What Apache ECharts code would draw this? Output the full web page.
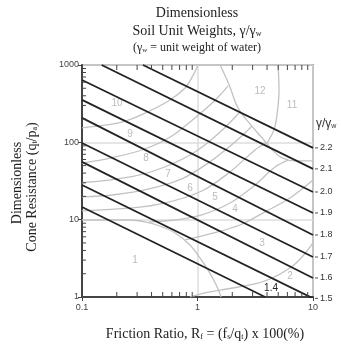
<!DOCTYPE html>
<html><head><meta charset="utf-8">
<script src="https://cdn.jsdelivr.net/npm/echarts@6.0.0/dist/echarts.min.js"></script>
<style>html,body{margin:0;padding:0;background:#fff}#c{width:341px;height:351px}</style>
</head><body><div id="c"></div>
<script>
// ---- axis ticks ----
const xMajor = [0.1, 1, 10];
const yMajor = [1, 10, 100, 1000];
const xMinor = [0.2,0.3,0.4,0.5,0.6,0.7,0.8,0.9,2,3,4,5,6,7,8,9];
const yMinor = [2,3,4,5,6,7,8,9,20,30,40,50,60,70,80,90,200,300,400,500,600,700,800,900];

// ---- gamma/gamma_w lines (start / end points) ----
const gammaValues = [2.2, 2.1, 2.0, 1.9, 1.8, 1.7, 1.6, 1.5, 1.4];
const gammaStart = [[0.337,1000],[0.148,1000],[0.1,641],[0.1,354],[0.1,207],[0.1,98],[0.1,55.8],[0.1,28.1],[0.1,14.6]];
const gammaEnd   = [[10,84.7],[10,45.3],[10,22.8],[10,12.2],[10,6.34],[10,3.29],[10,1.76],[10,0.96],[3.85,1]];

// ---- soil behaviour type zone boundaries (gray curves) ----
const b10_9  = [[0.1,154],[0.17,169],[0.23,185],[0.33,228],[0.56,343],[0.78,505],[0.91,722],[1.01,1000]];
const b9_8   = [[0.1,54],[0.18,63],[0.35,82],[0.58,117],[0.95,207],[1.34,323],[1.63,436],[1.84,537]];
const b8_7   = [[0.1,30],[0.27,36],[0.52,48],[0.95,75],[1.57,136],[2.33,247]];
const b7_6   = [[0.1,19.7],[0.19,21],[0.38,25],[0.74,34],[1.28,56],[2.11,101],[2.97,163]];
const b6_5   = [[0.1,13],[0.27,14.2],[0.52,16.4],[1.09,23.5],[1.91,41.4],[3.15,79.8],[3.92,98]];
const b5_4   = [[0.38,9.34],[0.64,9.9],[1.09,11.5],[1.91,16.4],[3.15,28.1],[4.69,48.1],[6.1,59]];
const b4_3   = [[0.78,5.46],[1.28,6.53],[2.33,8.53],[3.84,12.6],[6.32,19.1],[10,32.6]];
const b12L   = [[1.57,1000],[1.88,553],[2.24,279],[2.85,173],[3.62,114],[4.42,80],[5.4,63],[7.0,57.5],[10,57.5]];
const b12_11 = [[4.98,1000],[5.08,476],[4.88,226],[4.59,145],[3.95,95]];
const b1     = [[0.1,9.9],[0.26,9.9],[0.35,9.34],[0.47,8.28],[0.64,6.73],[0.86,4.71],[1.05,3.2],[1.28,2.04],[1.48,1.35],[1.6,1]];
const b2     = [[0.86,1],[1.16,1.13],[1.57,1.23],[2.85,1.43],[4.24,1.71],[6.32,2.37],[8.04,3.29],[10,5.0]];
const boundaries = [b10_9, b9_8, b8_7, b7_6, b6_5, b5_4, b4_3, b12L, b12_11, b1, b2];

// ---- zone numbers ----
const zoneNames = ['10','9','8','7','6','5','4','3','2','1','12','11'];
const zonePos = [[0.201,323],[0.261,128],[0.358,62.8],[0.556,39],[0.861,25.7],[1.42,19.7],[2.11,13.7],[3.62,5.0],[6.32,1.87],[0.288,3.01],[3.48,462],[6.58,305]];

const serif = '"Liberation Serif","Times New Roman",serif';
const sans = '"Liberation Sans",Arial,sans-serif';
const chart = echarts.init(document.getElementById('c'), null, {renderer:'canvas'});

const series = [];
boundaries.forEach(b => series.push({
  type:'line', data:b, smooth:0.35, showSymbol:false, silent:true, z:2,
  lineStyle:{color:'#c2c2c2', width:1.3}
}));
gammaValues.forEach((g,i) => series.push({
  type:'line', data:[gammaStart[i], gammaEnd[i]], showSymbol:false, silent:true, z:5,
  lineStyle:{color:'#222', width:1.8},
  endLabel: i < 8 ? {show:true, formatter:g.toFixed(1), fontFamily:sans, fontSize:9, color:'#333', distance:7}
                  : {show:true, formatter:g.toFixed(1), fontFamily:sans, fontSize:10, color:'#222', offset:[-9,-9]}
}));
series.push({
  type:'scatter', data:zonePos.map((p,i)=>[p[0],p[1],zoneNames[i]]), symbolSize:0, silent:true, z:3,
  label:{show:true, position:'inside', formatter:p=>p.value[2], fontFamily:sans, fontSize:10, color:'#aaa'}
});
// minor ticks (x: bottom & top, inward)
series.push({
  type:'custom', data:xMinor.map(v=>[v,1]), silent:true, z:6, clip:false,
  renderItem:(params, api) => {
    const v = api.value(0), b = api.coord([v,1]), t = api.coord([v,1000]);
    return {type:'group', children:[
      {type:'line', shape:{x1:b[0],y1:b[1],x2:b[0],y2:b[1]-5}, style:{stroke:'#444', lineWidth:1}},
      {type:'line', shape:{x1:t[0],y1:t[1],x2:t[0],y2:t[1]+5}, style:{stroke:'#444', lineWidth:1}}
    ]};
  }
});
// minor ticks (y: left, inward)
series.push({
  type:'custom', data:yMinor.map(v=>[0.1,v]), silent:true, z:6, clip:false,
  renderItem:(params, api) => {
    const p = api.coord([0.1, api.value(1)]);
    return {type:'line', shape:{x1:p[0],y1:p[1],x2:p[0]+4,y2:p[1]}, style:{stroke:'#444', lineWidth:1}};
  }
});
// right-side gamma ticks
series.push({
  type:'custom', data:gammaEnd.slice(0,8).map(p=>[10,p[1]]), silent:true, z:6, clip:false,
  renderItem:(params, api) => {
    const p = api.coord([10, api.value(1)]);
    return {type:'line', shape:{x1:p[0]+2,y1:p[1],x2:p[0]+5,y2:p[1]}, style:{stroke:'#555', lineWidth:1}};
  }
});

chart.setOption({
  animation:false,
  grid:{left:82, right:28, top:65, bottom:54, show:true, borderColor:'#555', borderWidth:1.5, backgroundColor:'transparent'},
  xAxis:{type:'log', logBase:10, min:xMajor[0], max:xMajor[xMajor.length-1],
    axisLine:{show:true, lineStyle:{color:'#444', width:2}},
    axisTick:{show:true, inside:false, length:4, lineStyle:{color:'#444'}},
    axisLabel:{fontFamily:sans, fontSize:9, color:'#444', margin:6, formatter:v=>String(+v.toPrecision(3))},
    splitLine:{show:true, lineStyle:{color:'#ddd', width:1.5}}},
  yAxis:{type:'log', logBase:10, min:yMajor[0], max:yMajor[yMajor.length-1],
    axisLine:{show:true, lineStyle:{color:'#444', width:2}},
    axisTick:{show:true, inside:false, length:4, lineStyle:{color:'#444'}},
    axisLabel:{fontFamily:sans, fontSize:9, color:'#444', margin:3, formatter:v=>String(+v.toPrecision(4))},
    splitLine:{show:true, lineStyle:{color:'#ddd', width:1.5}}},
  graphic:[
    {type:'text', x:197, y:13, style:{text:'Dimensionless', font:'14px '+serif, fill:'#222', align:'center', verticalAlign:'middle'}},
    {type:'text', x:197, y:31, style:{text:'Soil Unit Weights, γ/γ{s|w}', font:'14px '+serif, fill:'#222', align:'center', verticalAlign:'middle',
      rich:{s:{fontSize:8, fontFamily:serif, verticalAlign:'bottom', lineHeight:8}}}},
    {type:'text', x:197, y:48, style:{text:'(γ{s|w} = unit weight of water)', font:'12px '+serif, fill:'#222', align:'center', verticalAlign:'middle',
      rich:{s:{fontSize:7, fontFamily:serif, verticalAlign:'bottom', lineHeight:7}}}},
    {type:'text', x:205, y:334, style:{text:'Friction Ratio, R{s|f} = (f{s|s}/q{s|t}) x 100(%)', font:'14px '+serif, fill:'#222', align:'center', verticalAlign:'middle',
      rich:{s:{fontSize:8, fontFamily:serif, verticalAlign:'bottom', lineHeight:8}}}},
    {type:'text', x:17, y:183, rotation:Math.PI/2, style:{text:'Dimensionless', font:'14px '+serif, fill:'#222', align:'center', verticalAlign:'middle'}},
    {type:'text', x:32, y:187, rotation:Math.PI/2, style:{text:'Cone Resistance (q{s|t}/p{s|a})', font:'14px '+serif, fill:'#222', align:'center', verticalAlign:'middle',
      rich:{s:{fontSize:8, fontFamily:serif, verticalAlign:'bottom', lineHeight:8}}}},
    {type:'text', x:316, y:124, style:{text:'γ/γ{s|w}', font:'12px '+sans, fill:'#333', align:'left', verticalAlign:'middle',
      rich:{s:{fontSize:7, fontFamily:sans, verticalAlign:'bottom', lineHeight:7}}}}
  ],
  series:series
});
</script></body></html>
